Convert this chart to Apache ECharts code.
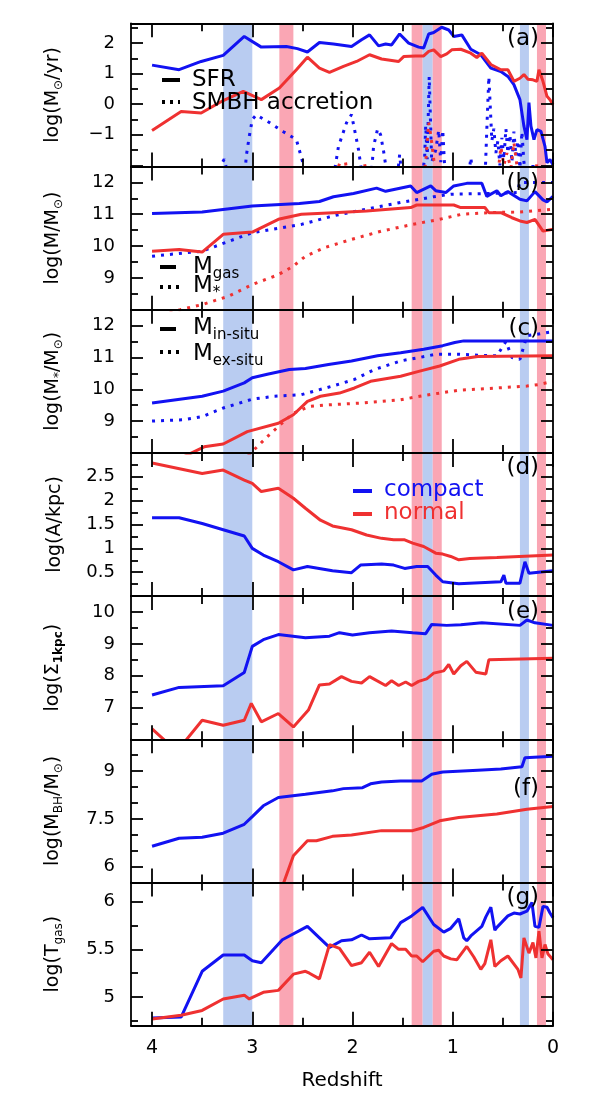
<!DOCTYPE html>
<html>
<head>
<meta charset="utf-8">
<script src="https://cdn.jsdelivr.net/npm/echarts@6/dist/echarts.min.js"></script>
<style>
  html, body { margin: 0; padding: 0; background: #fff; }
  #chart { width: 598px; height: 1113px; }
</style>
</head>
<body>
<div id="chart"></div>
<script>
const FONT = 'DejaVu Sans';
const BLUE = '#1212f2';
const RED = '#ef3131';
const BAND_BLUE = '#b9ccf1';
const BAND_RED = '#faa6b4';

// ── redshift axis ──
const zMin = 0;
const zMax = 4.21;
const zLabels = [0, 1, 2, 3, 4];
const zMajor = [0, 1, 2, 3, 4];
const zMinor = [0.5, 1.5, 2.5, 3.5];

// shaded epochs [zFrom, zTo, kind]
const bands = [
  [3.0, 3.29, 'b'], [2.59, 2.73, 'r'],
  [1.30, 1.41, 'r'], [1.20, 1.30, 'b'], [1.11, 1.20, 'r'],
  [0.24, 0.33, 'b'], [0.07, 0.16, 'r']
];

// ── (a) SFR and SMBH accretion ──
const sfrCompact = [[4.0,1.28],[3.73,1.13],[3.51,1.40],[3.29,1.60],[3.08,2.22],[2.91,1.87],[2.66,1.89],[2.55,1.82],[2.45,1.71],[2.33,2.02],[2.19,1.97],[2.01,1.89],[1.91,2.11],[1.83,2.27],[1.74,1.91],[1.67,1.97],[1.61,1.94],[1.53,2.30],[1.44,2.0],[1.34,1.87],[1.29,1.84],[1.24,2.30],[1.19,2.35],[1.11,2.52],[1.04,2.43],[0.99,2.22],[0.91,2.27],[0.82,1.80],[0.72,1.62],[0.62,1.18],[0.52,1.07],[0.45,0.91],[0.39,0.64],[0.33,0.15],[0.29,-0.72],[0.26,-1.16],[0.24,0.05],[0.22,-0.72],[0.19,-1.16],[0.16,-0.83],[0.12,-0.89],[0.08,-1.38],[0.06,-1.92],[0.03,-1.81],[0.0,-1.98]];
const sfrNormal = [[4.0,-0.86],[3.71,-0.24],[3.51,-0.29],[3.29,0.12],[3.09,0.42],[2.91,0.15],[2.73,0.53],[2.56,1.13],[2.45,1.54],[2.33,1.18],[2.23,1.04],[2.09,1.24],[1.96,1.40],[1.83,1.62],[1.71,1.48],[1.54,1.40],[1.49,1.56],[1.37,1.58],[1.29,1.58],[1.24,1.73],[1.19,1.78],[1.12,1.56],[1.06,1.65],[1.01,1.78],[0.92,1.80],[0.82,1.67],[0.76,1.53],[0.71,1.67],[0.62,1.30],[0.52,1.13],[0.45,1.13],[0.39,0.75],[0.33,0.85],[0.29,0.97],[0.25,0.82],[0.20,0.80],[0.16,0.75],[0.14,1.13],[0.10,0.75],[0.06,0.26],[0.03,0.15],[0.0,-0.02]];
const bhaccCompact = [[3.45,-2.6],[3.33,-2.1],[3.28,-1.8],[3.22,-2.6],[3.08,-2.6],[3.06,-1.7],[3.03,-1.05],[3.0,-0.5],[2.96,-0.35],[2.83,-0.6],[2.69,-0.9],[2.56,-1.16],[2.48,-2.1],[2.4,-2.6],[2.2,-2.6],[2.14,-1.38],[2.06,-0.61],[2.01,-0.34],[1.98,-0.83],[1.94,-1.49],[1.91,-2.2],[1.82,-2.6],[1.79,-1.38],[1.75,-0.81],[1.72,-1.0],[1.69,-1.54],[1.66,-2.2],[1.56,-2.6],[1.53,-1.65],[1.51,-2.3],[1.31,-2.6],[1.28,-1.7],[1.27,-0.7],[1.255,-1.8],[1.235,0.9],[1.21,-1.9],[1.17,-1.5],[1.14,-0.85],[1.12,-1.9],[1.10,-0.85],[1.08,-2.1],[1.05,-2.6],[0.85,-2.6],[0.82,-1.75],[0.79,-2.6],[0.68,-2.6],[0.66,-0.8],[0.64,0.9],[0.61,-1.2],[0.59,-0.8],[0.57,-1.6],[0.55,-1.2],[0.53,-2.0],[0.51,-1.1],[0.49,-1.8],[0.47,-0.8],[0.45,-1.6],[0.43,-1.0],[0.41,-1.9],[0.39,-0.9],[0.37,-1.7],[0.35,-1.2],[0.33,-2.1],[0.31,-0.9],[0.29,-1.9],[0.27,-2.6],[0.22,-2.6],[0.20,-2.0],[0.18,-2.6]];
const bhaccNormal = [[2.2,-2.6],[2.13,-1.95],[2.10,-2.6],[2.07,-1.9],[2.04,-2.6],[1.92,-2.6],[1.88,-1.95],[1.84,-2.6],[1.30,-2.6],[1.27,-1.9],[1.24,-0.6],[1.22,-1.0],[1.19,-1.8],[1.17,-2.6],[0.56,-2.6],[0.52,-1.4],[0.49,-2.0],[0.46,-1.6],[0.42,-2.1],[0.39,-1.25],[0.36,-2.0],[0.33,-2.6],[0.18,-2.6],[0.16,-1.9],[0.13,-2.6]];

// ── (b) gas and stellar mass ──
const gasCompact = [[4.0,11.02],[3.5,11.07],[3.0,11.26],[2.53,11.34],[2.33,11.40],[2.19,11.55],[1.99,11.65],[1.76,11.82],[1.67,11.72],[1.42,11.89],[1.36,11.68],[1.22,11.89],[1.17,11.74],[1.07,11.68],[0.99,11.89],[0.86,11.97],[0.71,11.97],[0.66,11.56],[0.56,11.74],[0.52,11.58],[0.45,11.71],[0.33,11.47],[0.26,11.42],[0.18,11.71],[0.10,11.45],[0.06,11.39],[0.0,11.56]];
const gasNormal = [[4.0,9.84],[3.73,9.89],[3.5,9.81],[3.29,10.37],[3.0,10.44],[2.74,10.84],[2.51,11.0],[2.19,11.05],[1.86,11.1],[1.42,11.21],[1.36,11.29],[0.99,11.29],[0.92,11.21],[0.68,11.21],[0.64,11.05],[0.52,11.05],[0.41,10.89],[0.33,10.79],[0.26,10.74],[0.18,10.84],[0.10,10.47],[0.0,10.53]];
const starCompact = [[4.0,9.68],[3.5,9.84],[3.0,10.42],[2.51,10.68],[2.19,10.95],[1.86,11.16],[1.52,11.37],[1.19,11.55],[1.02,11.63],[0.66,11.65],[0.36,11.68],[0.33,12.0],[0.0,12.0]];
const starNormal = [[4.0,7.8],[3.72,8.0],[3.5,8.16],[3.24,8.42],[3.0,8.79],[2.74,9.1],[2.59,9.37],[2.47,9.68],[2.28,9.95],[2.01,10.21],[1.71,10.47],[1.40,10.68],[1.13,10.84],[0.91,11.0],[0.64,11.05],[0.33,11.07],[0.0,11.16]];

// ── (c) in-situ / ex-situ stellar mass ──
const insituCompact = [[4.0,9.57],[3.5,9.78],[3.29,9.94],[3.08,10.2],[3.0,10.36],[2.85,10.47],[2.63,10.62],[2.47,10.65],[2.24,10.78],[2.01,10.89],[1.75,11.05],[1.52,11.15],[1.29,11.26],[1.10,11.37],[0.98,11.47],[0.89,11.52],[0.0,11.52]];
const insituNormal = [[3.8,7.7],[3.62,7.98],[3.48,8.19],[3.29,8.28],[3.05,8.67],[2.74,8.93],[2.59,9.2],[2.45,9.62],[2.32,9.78],[2.13,9.88],[1.98,10.04],[1.82,10.25],[1.52,10.41],[1.33,10.57],[1.13,10.73],[0.94,10.94],[0.75,11.03],[0.0,11.05]];
const exsituCompact = [[4.0,9.0],[3.69,9.04],[3.5,9.14],[3.29,9.41],[3.0,9.69],[2.78,9.78],[2.51,9.83],[2.2,10.1],[1.98,10.31],[1.78,10.62],[1.52,10.89],[1.33,11.0],[1.17,11.1],[0.94,11.1],[0.75,11.07],[0.56,11.05],[0.47,11.5],[0.41,11.0],[0.33,10.94],[0.26,11.68],[0.0,11.81]];
const exsituNormal = [[3.1,7.7],[3.02,7.98],[2.85,8.51],[2.74,8.83],[2.59,9.25],[2.43,9.46],[2.24,9.51],[1.90,9.57],[1.52,9.67],[1.33,9.78],[1.13,9.88],[0.94,9.97],[0.56,10.04],[0.26,10.1],[0.14,10.15],[0.0,10.25]];

// ── (d) size ──
const sizeCompact = [[4.0,1.64],[3.73,1.64],[3.5,1.52],[3.29,1.39],[3.08,1.26],[3.0,1.0],[2.89,0.86],[2.74,0.72],[2.59,0.55],[2.45,0.62],[2.2,0.53],[2.01,0.49],[1.92,0.65],[1.71,0.67],[1.59,0.65],[1.48,0.58],[1.36,0.62],[1.25,0.62],[1.17,0.44],[1.10,0.30],[0.94,0.26],[0.52,0.30],[0.49,0.44],[0.47,0.27],[0.33,0.27],[0.28,0.72],[0.24,0.48],[0.0,0.53]];
const sizeNormal = [[4.0,2.79],[3.5,2.57],[3.29,2.64],[3.08,2.43],[3.0,2.36],[2.91,2.19],[2.74,2.26],[2.59,2.05],[2.47,1.84],[2.32,1.59],[2.2,1.47],[2.01,1.39],[1.86,1.28],[1.71,1.21],[1.59,1.18],[1.48,1.18],[1.40,1.11],[1.29,1.04],[1.17,0.90],[1.10,0.88],[1.02,0.83],[0.94,0.76],[0.83,0.79],[0.56,0.81],[0.0,0.86]];

// ── (e) central surface density ──
const sigmaCompact = [[4.0,7.39],[3.73,7.63],[3.29,7.68],[3.08,8.10],[3.0,8.92],[2.89,9.13],[2.74,9.29],[2.47,9.19],[2.23,9.24],[2.13,9.35],[2.0,9.28],[1.83,9.35],[1.61,9.40],[1.40,9.35],[1.27,9.32],[1.21,9.61],[1.06,9.58],[0.92,9.6],[0.71,9.66],[0.33,9.58],[0.26,9.75],[0.18,9.66],[0.0,9.58]];
const sigmaNormal = [[4.0,6.33],[3.85,5.9],[3.68,5.9],[3.5,6.60],[3.29,6.44],[3.08,6.60],[3.01,7.13],[2.91,6.55],[2.74,6.81],[2.59,6.39],[2.44,6.92],[2.33,7.71],[2.23,7.74],[2.11,7.97],[2.01,7.82],[1.91,7.77],[1.83,7.97],[1.67,7.69],[1.61,7.84],[1.54,7.69],[1.47,7.80],[1.41,7.69],[1.34,7.82],[1.26,7.90],[1.19,8.08],[1.09,8.15],[1.04,8.35],[0.99,8.05],[0.92,8.31],[0.86,8.45],[0.77,8.11],[0.67,8.05],[0.64,8.50],[0.0,8.55]];

// ── (f) black hole mass ──
const mbhCompact = [[4.0,6.64],[3.73,6.89],[3.5,6.92],[3.29,7.05],[3.08,7.33],[3.0,7.57],[2.89,7.91],[2.74,8.17],[2.47,8.27],[2.2,8.38],[2.09,8.45],[1.90,8.48],[1.82,8.60],[1.71,8.66],[1.52,8.69],[1.31,8.69],[1.21,8.90],[1.10,8.97],[0.75,9.03],[0.52,9.07],[0.31,9.14],[0.28,9.42],[0.0,9.47]];
const mbhNormal = [[2.72,5.2],[2.59,6.34],[2.45,6.81],[2.36,6.81],[2.2,6.95],[2.01,6.99],[1.71,7.13],[1.40,7.13],[1.29,7.23],[1.13,7.44],[0.94,7.54],[0.56,7.65],[0.26,7.80],[0.0,7.89]];

// ── (g) gas temperature ──
const tgasCompact = [[4.0,4.78],[3.71,4.79],[3.5,5.27],[3.29,5.44],[3.08,5.44],[3.0,5.38],[2.91,5.36],[2.70,5.60],[2.45,5.74],[2.33,5.62],[2.23,5.52],[2.11,5.59],[2.01,5.60],[1.91,5.65],[1.83,5.61],[1.62,5.62],[1.52,5.78],[1.41,5.85],[1.30,5.94],[1.19,5.76],[1.09,5.68],[1.02,5.72],[0.94,5.82],[0.89,5.62],[0.86,5.59],[0.82,5.64],[0.71,5.74],[0.67,5.84],[0.62,5.94],[0.58,5.70],[0.56,5.73],[0.45,5.85],[0.39,5.88],[0.33,5.87],[0.26,5.90],[0.21,5.99],[0.18,5.74],[0.14,5.73],[0.10,5.95],[0.06,5.94],[0.03,5.88],[0.0,5.83]];
const tgasNormal = [[4.0,4.77],[3.71,4.81],[3.5,4.86],[3.29,4.98],[3.08,5.02],[3.03,4.98],[2.89,5.05],[2.74,5.07],[2.59,5.24],[2.47,5.27],[2.43,5.25],[2.33,5.19],[2.23,5.55],[2.13,5.51],[2.01,5.33],[1.91,5.36],[1.83,5.47],[1.74,5.32],[1.61,5.56],[1.54,5.50],[1.47,5.50],[1.41,5.43],[1.36,5.43],[1.30,5.37],[1.19,5.48],[1.14,5.49],[1.09,5.43],[1.02,5.40],[0.96,5.39],[0.86,5.53],[0.79,5.42],[0.72,5.29],[0.68,5.35],[0.62,5.60],[0.58,5.32],[0.52,5.38],[0.45,5.43],[0.35,5.29],[0.32,5.2],[0.29,5.62],[0.24,5.46],[0.20,5.57],[0.17,5.41],[0.14,5.69],[0.11,5.41],[0.08,5.55],[0.05,5.45],[0.0,5.39]];

// y ranges and ticks per panel
const panels = [
  { tag: '(a)', name: 'log(M{s|⊙}/yr)', min: -2.04, max: 2.65,
    labels: [-1, 0, 1, 2], major: [-2, -1, 0, 1, 2], minor: [-1.5, -0.5, 0.5, 1.5, 2.5],
    lines: [[sfrCompact, BLUE, false], [bhaccCompact, BLUE, true], [sfrNormal, RED, false], [bhaccNormal, RED, true]] },
  { tag: '(b)', name: 'log(M/M{s|⊙})', min: 8, max: 12.5,
    labels: [9, 10, 11, 12], major: [8, 9, 10, 11, 12], minor: [8.5, 9.5, 10.5, 11.5, 12.5],
    lines: [[gasCompact, BLUE, false], [starCompact, BLUE, true], [gasNormal, RED, false], [starNormal, RED, true]] },
  { tag: '(c)', name: 'log(M{s|*}/M{s|⊙})', min: 8, max: 12.5,
    labels: [9, 10, 11, 12], major: [8, 9, 10, 11, 12], minor: [8.5, 9.5, 10.5, 11.5, 12.5],
    lines: [[insituCompact, BLUE, false], [exsituCompact, BLUE, true], [insituNormal, RED, false], [exsituNormal, RED, true]] },
  { tag: '(d)', name: 'log(A/kpc)', min: 0, max: 3,
    labels: [0.5, 1, 1.5, 2, 2.5], major: [0.5, 1, 1.5, 2, 2.5], minor: [0.25, 0.75, 1.25, 1.75, 2.25, 2.75],
    lines: [[sizeCompact, BLUE, false], [sizeNormal, RED, false]] },
  { tag: '(e)', name: 'log(Σ{sb|1kpc})', min: 6, max: 10.5,
    labels: [7, 8, 9, 10], major: [7, 8, 9, 10], minor: [6.5, 7.5, 8.5, 9.5],
    lines: [[sigmaCompact, BLUE, false], [sigmaNormal, RED, false]] },
  { tag: '(f)', name: 'log(M{s|BH}/M{s|⊙})', min: 5.5, max: 10,
    labels: [6, 7.5, 9], major: [6, 7.5, 9], minor: [6.5, 7, 8, 8.5, 9.5],
    lines: [[mbhCompact, BLUE, false], [mbhNormal, RED, false]] },
  { tag: '(g)', name: 'log(T{s|gas})', min: 4.7, max: 6.2,
    labels: [5, 5.5, 6], major: [5, 5.5, 6], minor: [4.75, 5.25, 5.75],
    lines: [[tgasCompact, BLUE, false], [tgasNormal, RED, false]] }
];

// ── layout ──
const GRID_LEFT = 131;
const GRID_RIGHT = 45;
const GRID_TOP = 23.3;
const PANEL_H = 143.2;
const TAG_Y = [39, 184, 329, 468, 612, 789, 898];

const black = { color: '#000', width: 1.8 };
const subRich = (size, pad) => ({
  s: { fontSize: size, fontFamily: FONT, verticalAlign: 'bottom', padding: [pad, 0, 0, 0] },
  sb: { fontSize: size, fontFamily: FONT, fontWeight: 'bold', verticalAlign: 'bottom', padding: [pad, 0, 0, 0] }
});

const grids = [], xAxes = [], yAxes = [], series = [];

panels.forEach((p, i) => {
  const last = i === panels.length - 1;
  grids.push({ left: GRID_LEFT, right: GRID_RIGHT, top: GRID_TOP + i * PANEL_H, height: PANEL_H });

  const xBase = { gridIndex: i, type: 'value', inverse: true, min: zMin, max: zMax, splitLine: { show: false }, z: 6 };
  const tick = (vals, len) => ({ show: true, inside: true, length: len, customValues: vals, lineStyle: black });
  ['bottom', 'top'].forEach((pos) => {
    xAxes.push({
      ...xBase, position: pos,
      axisLine: { show: true, onZero: false, lineStyle: black },
      axisTick: tick(zMajor, 14),
      axisLabel: { show: last && pos === 'bottom', customValues: zLabels, margin: 13, color: '#000', fontSize: 19, fontFamily: FONT },
      name: last && pos === 'bottom' ? 'Redshift' : '',
      nameLocation: 'middle', nameGap: 45,
      nameTextStyle: { color: '#000', fontSize: 20, fontFamily: FONT }
    });
    xAxes.push({
      ...xBase, position: pos,
      axisLine: { show: false, onZero: false },
      axisTick: tick(zMinor, 8),
      axisLabel: { show: false }
    });
  });

  const yBase = { gridIndex: i, type: 'value', min: p.min, max: p.max, splitLine: { show: false }, z: 6 };
  ['left', 'right'].forEach((pos) => {
    yAxes.push({
      ...yBase, position: pos,
      axisLine: { show: true, onZero: false, lineStyle: black },
      axisTick: tick(p.major, 12),
      axisLabel: {
        show: pos === 'left', customValues: p.labels, margin: 16, color: '#000', fontSize: 18, fontFamily: FONT,
        formatter: (v) => String(v).replace('-', '\u2212')
      },
      name: pos === 'left' ? p.name : '',
      nameLocation: 'middle', nameGap: 66, nameRotate: 90,
      nameTextStyle: { color: '#000', fontSize: 19, fontFamily: FONT, rich: subRich(12, 11) }
    });
    yAxes.push({
      ...yBase, position: pos,
      axisLine: { show: false, onZero: false },
      axisTick: tick(p.minor, 7),
      axisLabel: { show: false }
    });
  });

  // shaded epochs, under the curves
  series.push({
    type: 'line', xAxisIndex: 4 * i, yAxisIndex: 4 * i, data: [], z: 1, silent: true,
    markArea: {
      silent: true,
      data: bands.map(([a, b, kind]) => [
        { xAxis: a, itemStyle: { color: kind === 'b' ? BAND_BLUE : BAND_RED, opacity: 1, borderWidth: 0 } },
        { xAxis: b }
      ])
    }
  });

  p.lines.forEach(([data, color, dotted]) => {
    series.push({
      type: 'line', xAxisIndex: 4 * i, yAxisIndex: 4 * i, data,
      symbol: 'none', clip: true, z: 3,
      lineStyle: { color, width: 3, type: dotted ? [3, 6] : 'solid', cap: 'butt' }
    });
  });
});

// ── legends and panel tags ──
const legendLine = (x1, x2, y, color, dotted) => ({
  type: 'line', z: 20, silent: true,
  shape: { x1, y1: y, x2, y2: y },
  style: { stroke: color, lineWidth: 4, lineDash: dotted ? [3, 5] : null }
});
const legendText = (x, y, text, color, align) => ({
  type: 'text', z: 20, silent: true, x, y,
  style: {
    text, fill: color, fontSize: 23, fontFamily: FONT, align: align || 'left', verticalAlign: 'middle',
    rich: subRich(15, 14)
  }
});

const graphics = [
  legendLine(162, 180, 80, '#000', false), legendText(192, 80, 'SFR', '#000'),
  legendLine(162, 180, 102, '#000', true), legendText(192, 103, 'SMBH accretion', '#000'),
  legendLine(160, 176, 267, '#000', false), legendText(193, 267, 'M{s|gas}', '#000'),
  legendLine(160, 180, 287, '#000', true), legendText(193, 286, 'M{s|*}', '#000'),
  legendLine(160, 176, 329, '#000', false), legendText(193, 328, 'M{s|in-situ}', '#000'),
  legendLine(160, 180, 352, '#000', true), legendText(193, 354, 'M{s|ex-situ}', '#000'),
  legendLine(353, 372, 491, BLUE, false), legendText(384, 490, 'compact', BLUE),
  legendLine(353, 372, 514, RED, false), legendText(384, 513, 'normal', RED)
];
panels.forEach((p, i) => graphics.push(legendText(539, TAG_Y[i], p.tag, '#000', 'right')));

const chart = echarts.init(document.getElementById('chart'));
chart.setOption({
  animation: false,
  backgroundColor: '#fff',
  grid: grids,
  xAxis: xAxes,
  yAxis: yAxes,
  series,
  graphic: graphics
});
</script>
</body>
</html>
